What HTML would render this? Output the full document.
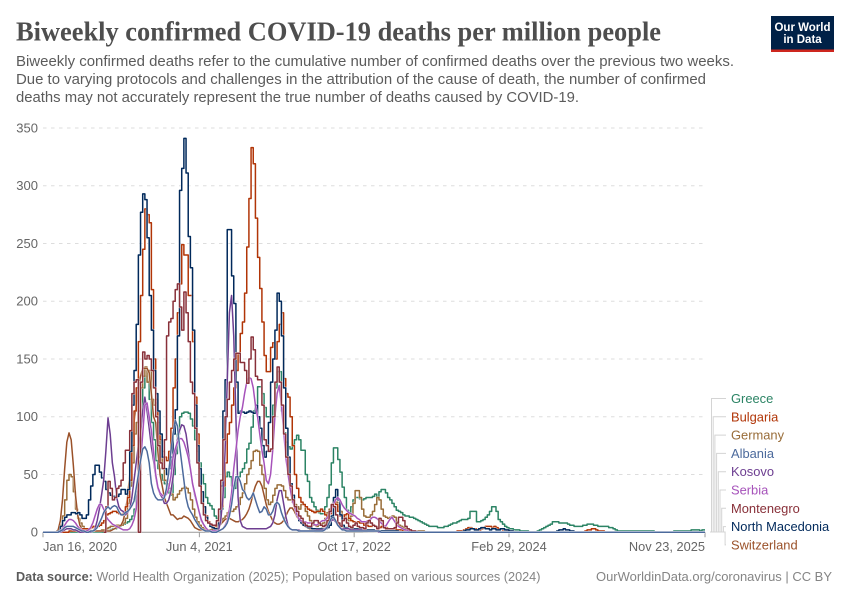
<!DOCTYPE html>
<html lang="en">
<head>
<meta charset="utf-8">
<title>Biweekly confirmed COVID-19 deaths per million people</title>
<style>
html,body{margin:0;padding:0;background:#fff;}
svg{display:block;}
text{font-family:"Liberation Sans",sans-serif;}
</style>
</head>
<body>
<svg id="chart" xmlns="http://www.w3.org/2000/svg" width="850" height="600" viewBox="0 0 850 600">
  <rect x="0" y="0" width="850" height="600" fill="#fff"/>
  <text x="16" y="40.5" font-size="27" font-weight="700" fill="#4e4e4e" textLength="645" lengthAdjust="spacingAndGlyphs" style="font-family:'Liberation Serif',serif">Biweekly confirmed COVID-19 deaths per million people</text>
  <g font-size="15" fill="#5b5b5b">
    <text x="16" y="66" textLength="718" lengthAdjust="spacingAndGlyphs">Biweekly confirmed deaths refer to the cumulative number of confirmed deaths over the previous two weeks.</text>
    <text x="16" y="84" textLength="690" lengthAdjust="spacingAndGlyphs">Due to varying protocols and challenges in the attribution of the cause of death, the number of confirmed</text>
    <text x="16" y="102" textLength="563" lengthAdjust="spacingAndGlyphs">deaths may not accurately represent the true number of deaths caused by COVID-19.</text>
  </g>
  <g>
    <rect x="771" y="16" width="63" height="36" fill="#002147"/>
    <rect x="771" y="49.5" width="63" height="2.5" fill="#ce261e"/>
    <text x="802.5" y="31" font-size="11.5" font-weight="700" fill="#fff" text-anchor="middle">Our World</text>
    <text x="802.5" y="43" font-size="11.5" font-weight="700" fill="#fff" text-anchor="middle">in Data</text>
  </g>
  <g id="grid"></g>
  <g id="yaxis"></g>
  <g id="xaxis"></g>
  <g id="lines"></g>
  <g id="connectors"></g>
  <g id="legend"></g>
  <text x="16" y="581" font-size="12.7" fill="#858585"><tspan font-weight="700" fill="#5b5b5b">Data source:</tspan> World Health Organization (2025); Population based on various sources (2024)</text>
  <text x="832" y="581" font-size="12.7" fill="#858585" text-anchor="end" textLength="236" lengthAdjust="spacingAndGlyphs">OurWorldinData.org/coronavirus | CC BY</text>
</svg>
<script>
// Weekly series, starting Jan 16, 2020. Each value is deaths per million in the previous two weeks.
const greece = [0,0,0,0,0,0,0,0,0,0, 0,0,0,0,0,0,0,0,0,0,
0,0,0,0,0,0,0,0,1,1, 1,2,3,3,4,5,6,7,8,9,
11,14,20,35,65,100,125,135,130,115, 95,80,62,55,50,45,42,38,34,32,
50,68,85,100,103,104,104,103,98,92, 80,70,60,50,42,30,25,23,20,14,
12,14,20,30,48,52,48,40,38,45, 48,52,55,60,72,77,91,105,110,126,
126,120,108,100,100,100,110,125,139,139, 105,86,78,74,72,76,80,84,80,71,
71,50,44,30,26,22,19,17,16,16, 22,30,41,60,73,73,63,52,39,30,
19,16,22,28,30,30,29,28,29,30, 30,30,31,33,30,35,37,37,34,30,
28,25,22,19,18,17,15,14,14,13, 13,12,11,10,9,8,7,6,5,5,
5,5,4,4,4,5,5,6,7,8, 8,9,10,11,11,11,12,18,18,18,
9,9,10,11,13,15,18,22,22,18, 11,9,7,5,4,3,3,2,2,2,
1,1,1,1,0,0,0,0,1,2, 3,4,5,6,7,9,9,9,8,8,
8,8,7,6,6,5,5,5,5,6, 6,7,7,7,6,6,5,5,5,5,
5,4,4,3,2,1,1,1,1,1, 1,1,1,1,1,1,1,1,1,1,
1,1,0,0,0,0,0,0,0,0, 0,1,1,1,1,1,1,1,1,2,2,2,2,1,2,2];
const bulgaria = [0,0,0,0,0,0,0,0,0,0, 0,0,1,1,1,1,1,2,3,3,
3,3,4,5,5,5,6,8,10,15, 16,17,18,18,17,16,15,17,22,30,
45,75,105,125,165,205,245,280,275,268, 210,150,115,95,80,70,65,62,70,90,
125,150,190,215,249,240,240,205,205,165, 117,85,55,35,22,14,9,6,5,5,
6,10,22,40,60,85,95,110,125,140, 155,172,182,207,247,289,333,319,272,238,
211,182,153,139,139,160,164,150,165,180, 190,133,120,117,100,75,50,38,30,26,
24,22,20,19,18,17,18,18,20,18, 15,12,16,22,28,24,18,14,12,15,
16,12,10,9,8,9,8,8,6,6, 5,5,6,5,4,4,5,4,4,3,
3,3,3,2,2,2,1,1,1,1, 0,0,0,0,0,0,0,0,0,0,
0,0,0,0,0,0,0,0,0,0, 0,1,1,1,2,3,4,4,3,3,
2,2,3,4,5,5,5,4,5,4, 3,3,2,2,1,1,1,0,0,0,
0,0,0,0,0,0,0,0,0,0, 0,0,0,0,0,0,0,0,0,0,
0,0,0,0,0,0,0,0,0,0, 1,2,2,3,3,2,1,1,1,0];
const germany = [0,0,0,0,0,0,0,2,6,14, 28,45,50,48,35,20,12,8,5,3,
2,1,1,1,1,1,1,2,2,3, 4,5,5,6,6,6,6,8,12,25,
40,60,85,95,105,125,135,143,130,140, 115,110,112,85,65,55,45,42,38,33,
28,30,33,36,38,39,38,34,28,20, 13,9,6,4,3,2,2,2,3,4,
5,7,10,12,14,17,18,18,20,22, 24,30,34,42,50,55,62,70,71,70,
58,50,38,28,24,26,32,38,41,41, 40,36,30,28,28,26,24,22,20,24,
24,18,14,10,7,6,5,6,7,8, 12,17,20,24,28,26,22,18,15,13,
11,10,14,25,36,36,30,20,14,13, 13,15,18,24,30,28,20,14,13,12,
13,14,13,9,6,5,4,3,2,2, 1,1,1,1,1,1,0];
const albania = [0,0,0,0,0,0,0,0,1,2, 4,5,5,5,5,4,3,2,1,1,
0,0,1,1,2,4,8,12,17,20, 22,20,22,23,22,18,15,15,17,18,
20,23,27,38,50,62,72,74,70,60, 42,34,30,28,28,28,30,38,52,70,
85,97,92,75,60,45,30,22,18,15, 11,8,5,3,2,1,1,1,0,0,
0,1,2,3,5,8,14,24,38,48, 48,44,37,35,30,28,30,34,28,22,
17,18,22,20,15,15,18,24,26,24, 17,12,8,5,3,2,2,2,1,1,
1,1,1,1,1,1,1,1,1,1, 2,4,8,12,13,10,6,4,2,2,
1,1,1,1,1,1,1,1,1,1, 1,1,1,1,1,1,0];
const kosovo = [0,0,0,0,0,0,0,0,0,1, 2,3,3,3,2,2,1,0,0,0,
0,0,0,1,3,10,20,32,45,70, 99,85,60,48,30,22,19,18,15,17,
20,30,45,60,75,85,105,117,105,90, 74,62,48,38,33,30,25,25,28,35,
48,65,80,88,93,92,85,71,55,42, 32,25,18,10,7,4,2,1,1,1,
1,2,10,30,70,130,190,205,170,100, 30,10,5,4,3,3,3,3,3,3,
3,3,3,3,4,5,8,15,28,36, 36,25,14,6,3,2,2,2,2,1,
1,1,1,1,1,1,2,2,2,2, 3,5,8,10,11,9,6,4,3,3,
3,3,2,2,2,2,2,2,1,1, 1,1,1,1,1,0];
const serbia = [0,0,0,0,0,0,0,0,1,3, 6,9,11,11,10,8,5,3,2,1,
1,2,4,8,14,20,24,24,20,14, 11,9,7,6,5,4,3,2,2,2,
3,6,11,20,40,60,85,110,112,100, 88,70,50,39,34,32,31,33,38,48,
65,72,78,81,81,78,72,65,55,42, 34,26,18,11,7,4,2,1,1,1,
1,1,2,3,6,10,20,34,55,71, 88,100,108,120,130,134,133,125,110,100,
85,71,60,45,42,50,71,100,120,127, 110,89,65,51,38,28,22,16,12,10,
9,9,8,8,8,7,6,7,9,10, 10,12,15,19,24,28,30,28,24,21,
19,17,16,15,14,12,11,9,9,9, 10,11,13,13,12,10,8,6,5,8,
11,13,10,7,5,4,3,2,2,1, 1,1,1,0];
const montenegro = [0,22,
44,38,28,30,38,40,45,60,71,71,
88,120,130,132,0,130,156,150,153,150, 140,125,100,75,60,55,80,170,182,185,
200,210,215,195,175,208,190,165,130,120, 90,60,40,25,15,10,8,7,6,6,
10,20,45,80,100,115,130,140,150,155, 155,147,147,140,129,150,169,158,135,132,
132,110,80,75,70,72,100,130,143,130, 110,85,65,50,40,28,22,18,14,12,
8,6,5,5,8,10,10,8,6,5, 6,10,18,24,22,15,8,5,10,12,
8,5,4,6,8,5,4,4,3,8, 10,8,6,5,3,12,10,4,3,3,
3,3,4,8,13,13,10,5,3,2, 1,1,0];
const montenegroFirstWeek = 28;
const northMacedonia = [0,0,0,0,0,0,0,1,5,10, 13,15,15,17,17,16,17,15,12,12,
15,28,40,50,58,58,52,47,44,37, 34,32,31,31,31,33,37,37,33,37,
70,110,140,180,240,277,293,288,255,205, 175,140,120,105,85,65,55,50,55,65,
85,106,170,296,315,341,311,256,229,175, 110,75,55,35,22,13,8,5,4,3,
3,8,40,105,132,262,262,222,198,130, 103,105,104,103,104,105,104,103,110,100,
90,75,65,70,95,130,150,175,207,200, 170,125,90,65,42,32,22,15,10,8,
6,5,4,4,3,3,3,3,3,3, 3,4,6,14,30,37,28,15,6,4,
4,3,4,3,3,3,3,2,2,2, 2,2,2,1,1,1,1,1,1,1,
1,1,1,1,0,0,0,0,0,0, 0,0,0,0,0,0,0,0,0,0,
0,0,0,0,0,0,0,0,0,0, 0,0,0,0,1,2,2,3,3,2,
2,3,4,4,3,3,2,3,3,2, 2,3,3,2,2,1,1,0,0,0,
0,0,0,0,0,0,0,0,0,0, 0,0,0,0,0,0,0,1,2,2,
3,2,2,1,1,0];
const switzerland = [0,0,0,0,0,0,0,2,10,28, 55,78,86,80,58,32,15,6,3,1,
1,1,1,1,1,1,1,1,1,1, 1,1,2,3,4,5,6,10,18,30,
50,75,95,110,125,135,142,142,142,138, 120,100,95,70,50,40,30,25,20,15,
15,13,11,12,12,14,13,12,10,7, 4,3,2,2,2,2,2,2,2,3,
4,5,7,9,11,12,12,11,10,9, 9,10,11,13,16,20,26,34,40,44,
44,40,32,24,18,14,10,8,7,7, 8,10,14,18,21,21,18,14,11,9,
6,5,4,3,3,3,3,3,3,4, 6,8,10,12,14,10,8,6,5,4,
4,3,3,3,2,2,2,2,2,2, 1,1,1,1,1,0];

const seriesNames = ["Greece","Bulgaria","Germany","Albania","Kosovo","Serbia","Montenegro","North Macedonia","Switzerland"];
const seriesColors = ["#2c8465","#b13507","#996d39","#4c6a9c","#6d3e91","#a652ba","#883039","#00295b","#9a5129"];
const yTickValues = [0,50,100,150,200,250,300,350];
const xTickDays = [0,505,1005,1505,2138];
const xTickLabels = ["Jan 16, 2020","Jun 4, 2021","Oct 17, 2022","Feb 29, 2024","Nov 23, 2025"];
const lastDay = 2138;

const NS = "http://www.w3.org/2000/svg";
const plotLeft = 43, plotRight = 705, plotBottom = 532.2, plotTop = 128;
function xScale(day){ return plotLeft + (plotRight - plotLeft) * day / lastDay; }
function yScale(v){ return plotBottom - (plotBottom - plotTop) * v / 350; }
function make(tag, attrs, parent){
  const el = document.createElementNS(NS, tag);
  for (const k in attrs) el.setAttribute(k, attrs[k]);
  parent.appendChild(el);
  return el;
}

// gridlines and y axis
const gridG = document.getElementById("grid");
const yG = document.getElementById("yaxis");
yTickValues.forEach(function(v){
  if (v > 0) {
    const g = make("line", {x1:plotLeft, x2:plotRight, y1:yScale(v), y2:yScale(v), stroke:"#dddddd", "stroke-width":1, "stroke-dasharray":"3.5,4.5"}, gridG);
    
    
  }
  const t = make("text", {x:38, y:yScale(v)+4.5, "font-size":13, fill:"#666666", "text-anchor":"end"}, yG);
  
  
  t.textContent = String(v);
});

// x axis
const xG = document.getElementById("xaxis");
const axisLine = make("line", {x1:plotLeft, x2:plotRight, y1:plotBottom, y2:plotBottom, stroke:"#999999", "stroke-width":1}, xG);


xTickDays.forEach(function(d, i){
  const x = xScale(d);
  const tick = make("line", {x1:x, x2:x, y1:plotBottom, y2:plotBottom+5, stroke:"#999999", "stroke-width":1}, xG);
  
  
  const anchor = i === 0 ? "start" : (i === xTickDays.length - 1 ? "end" : "middle");
  const t = make("text", {x:x, y:551, "font-size":12.8, fill:"#666666", "text-anchor":anchor}, xG);
  
  
  t.textContent = xTickLabels[i];
});

// series paths: weekly lines, last value held to the axis end (Montenegro has its own range)
function seriesPath(values, firstWeek, holdToEnd, stepped){
  let d = "";
  values.forEach(function(v, i){
    const x = xScale((firstWeek + i) * 7).toFixed(2);
    const y = yScale(v).toFixed(2);
    if (i === 0) d += "M" + x + " " + y;
    else if (stepped) d += "H" + x + "V" + y;
    else d += "L" + x + " " + y;
  });
  if (holdToEnd) d += "H" + xScale(lastDay).toFixed(2);
  return d;
}
const linesG = document.getElementById("lines");
const drawOrder = [
  {values:greece, idx:0, first:0, hold:true, stepped:true},
  {values:germany, idx:2, first:0, hold:true, stepped:true},
  {values:switzerland, idx:8, first:0, hold:true, stepped:false},
  {values:bulgaria, idx:1, first:0, hold:true, stepped:true},
  {values:northMacedonia, idx:7, first:0, hold:true, stepped:true},
  {values:kosovo, idx:4, first:0, hold:true, stepped:false},
  {values:serbia, idx:5, first:0, hold:true, stepped:false},
  {values:montenegro, idx:6, first:montenegroFirstWeek, hold:false, stepped:true},
  {values:albania, idx:3, first:0, hold:true, stepped:false}
];
drawOrder.forEach(function(s){
  const d = seriesPath(s.values, s.first, s.hold, s.stepped);
  const halo = make("path", {d:d, fill:"none", stroke:"#ffffff", "stroke-width":2.4, "stroke-linejoin":"round", opacity:0.7}, linesG);
  
  
  const line = make("path", {d:d, fill:"none", stroke:seriesColors[s.idx], "stroke-width":1.5, "stroke-linejoin":"round"}, linesG);
  
  
});

// legend with connectors
const legendG = document.getElementById("legend");
const connG = document.getElementById("connectors");
const labelStep = 18.3, labelTop = 398.5, connBottom = 532, connStart = 710;
seriesNames.forEach(function(name, i){
  const y = labelTop + i * labelStep;
  const t = make("text", {x:731, y:y+4.5, "font-size":12.9, fill:seriesColors[i]}, legendG);
  
  
  t.textContent = name;
  const vx = 711.5 + i * 1.7;
  const c = make("path", {d:"M"+connStart+" "+connBottom+"H"+vx+"V"+y+"H726", fill:"none", stroke:"#d4d4d4", "stroke-width":1}, connG);
  
  
});
</script>
</body>
</html>
